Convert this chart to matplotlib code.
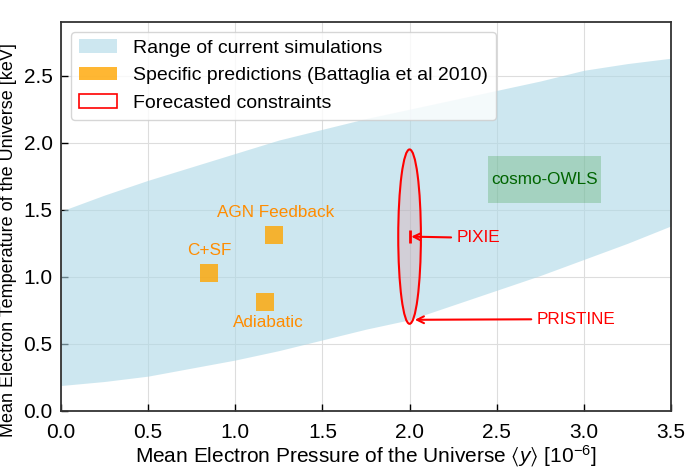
import matplotlib
matplotlib.use("Agg")
import matplotlib.pyplot as plt
from matplotlib.patches import Patch, Ellipse, Rectangle

plt.rcParams['font.family'] = ['Liberation Sans', 'DejaVu Sans']
plt.rcParams['mathtext.fontset'] = 'custom'
plt.rcParams['mathtext.rm'] = 'Liberation Sans'
plt.rcParams['mathtext.it'] = 'Liberation Sans:italic'
plt.rcParams['mathtext.bf'] = 'Liberation Sans:bold'
plt.rcParams['mathtext.fallback'] = 'stixsans'

# ---- data ----
band_x = [0.0, 0.25, 0.5, 0.75, 1.0, 1.25, 1.5, 1.75, 2.0, 2.25, 2.5, 2.75, 3.0, 3.25, 3.5]
band_low = [0.19, 0.22, 0.26, 0.32, 0.38, 0.45, 0.53, 0.61, 0.68, 0.79, 0.90, 1.01, 1.13, 1.25, 1.38]
band_high = [1.49, 1.61, 1.72, 1.82, 1.92, 2.02, 2.10, 2.18, 2.25, 2.32, 2.39, 2.46, 2.54, 2.59, 2.63]

pred_names = ["C+SF", "AGN Feedback", "Adiabatic"]
pred_x = [0.85, 1.22, 1.17]
pred_y = [1.03, 1.31, 0.81]
pred_label_x = [0.85, 1.23, 1.19]
pred_label_y = [1.20, 1.48, 0.66]

forecast_x = 2.0
forecast_y = 1.30
forecast_w = 0.13
forecast_h = 1.30
pixie_yerr = 0.05

owls_x = [2.45, 3.10]
owls_y = [1.55, 1.90]

xticks = [0.0, 0.5, 1.0, 1.5, 2.0, 2.5, 3.0, 3.5]
yticks = [0.0, 0.5, 1.0, 1.5, 2.0, 2.5]

# ---- figure ----
fig = plt.figure(figsize=(6.85, 4.68), dpi=100)
ax = fig.add_axes([61/685, 1-411/468, 610/685, 389/468])

ax.fill_between(band_x, band_low, band_high, color='lightblue', alpha=0.6,
                linewidth=0, zorder=1)

ax.plot(pred_x, pred_y, 's', color='orange', alpha=0.8, markersize=13.5,
        markeredgewidth=0, zorder=3)
for n, lx, ly in zip(pred_names, pred_label_x, pred_label_y):
    ax.text(lx, ly, n, color='darkorange', fontsize=12.3, ha='center', va='center', zorder=4)

ax.add_patch(Rectangle((owls_x[0], owls_y[0]), owls_x[1]-owls_x[0], owls_y[1]-owls_y[0],
                       facecolor='green', alpha=0.2, linewidth=0, zorder=2))
ax.text(sum(owls_x)/2, sum(owls_y)/2, "cosmo-OWLS", color='darkgreen', fontsize=12.3,
        ha='center', va='center', zorder=4)

ax.add_patch(Ellipse((forecast_x, forecast_y), forecast_w, forecast_h,
                     facecolor=(1, 0, 0, 0.1), edgecolor='red', linewidth=1.5, zorder=3))
ax.errorbar([forecast_x], [forecast_y], yerr=[pixie_yerr], color='red', linewidth=2,
            capsize=0, zorder=4)

ax.annotate("PIXIE", xy=(forecast_x + 0.01, forecast_y), xytext=(2.27, 1.29),
            color='red', fontsize=12.3, ha='left', va='center',
            arrowprops=dict(arrowstyle='->', color='red', lw=1.5, shrinkA=2, shrinkB=0))
ax.annotate("PRISTINE", xy=(forecast_x + 0.03, 0.68), xytext=(2.73, 0.685),
            color='red', fontsize=12.3, ha='left', va='center',
            arrowprops=dict(arrowstyle='->', color='red', lw=1.5, shrinkA=2, shrinkB=0))

ax.set_xlim(0, 3.5)
ax.set_ylim(0, 2.9)
ax.set_xticks(xticks)
ax.set_yticks(yticks)
ax.tick_params(direction='in', length=5, width=1, labelsize=15)
ax.tick_params(axis='x', pad=8.5)
ax.tick_params(axis='y', pad=6)
ax.grid(True, color='#dddddd', linewidth=0.8, zorder=0)
ax.set_axisbelow(True)
for s in ax.spines.values():
    s.set_linewidth(1.3)
    s.set_color('#333333')

ax.set_xlabel("Mean Electron Pressure of the Universe $\u27e8y\u27e9$ [$10^{-6}$]", fontsize=15,
              labelpad=1)
ax.set_ylabel("Mean Electron Temperature of the Universe [keV]", fontsize=13)
ax.yaxis.set_label_coords(-0.072, 0.44)

handles = [Patch(facecolor='lightblue', alpha=0.6, edgecolor='none'),
           Patch(facecolor='orange', alpha=0.8, edgecolor='none'),
           Patch(facecolor='white', edgecolor='red', linewidth=1.2)]
labels = ["Range of current simulations", "Specific predictions (Battaglia et al 2010)",
          "Forecasted constraints"]
ax.legend(handles, labels, loc='upper left', fontsize=14, labelspacing=0.5)

fig.savefig("out.png", dpi=100)
